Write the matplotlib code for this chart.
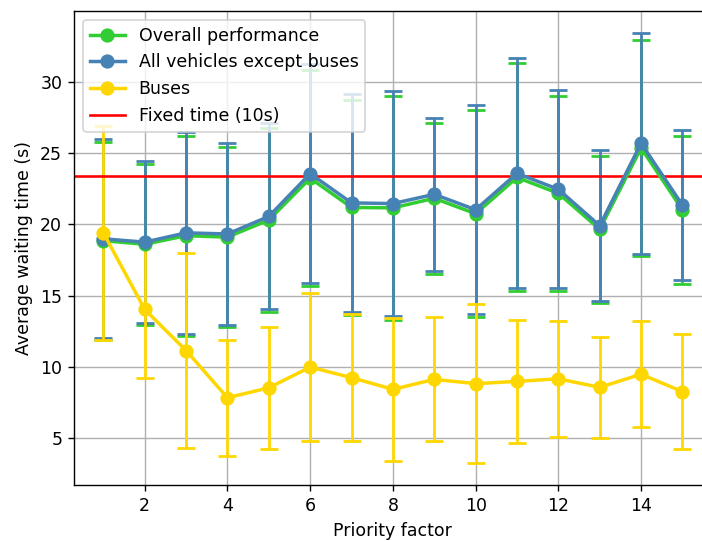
import matplotlib
matplotlib.use("Agg")
import matplotlib.pyplot as plt
from matplotlib.lines import Line2D

# Priority factor values on the x axis
priority = [1, 2, 3, 4, 5, 6, 7, 8, 9, 10, 11, 12, 13, 14, 15]

# Overall performance: mean waiting time and standard deviation (s)
overall_mean = [18.85, 18.60, 19.20, 19.10, 20.30, 23.23, 21.18, 21.15, 21.82, 20.74, 23.28, 22.17, 19.65, 25.35, 21.01]
overall_std = [6.95, 5.65, 7.00, 6.33, 6.47, 7.59, 7.56, 7.84, 5.30, 7.24, 7.99, 6.83, 5.16, 7.60, 5.20]

# All vehicles except buses
cars_mean = [18.98, 18.75, 19.40, 19.32, 20.55, 23.55, 21.50, 21.45, 22.10, 21.02, 23.57, 22.45, 19.90, 25.68, 21.34]
cars_std = [6.98, 5.69, 7.09, 6.39, 6.52, 7.67, 7.64, 7.90, 5.38, 7.33, 8.07, 6.94, 5.29, 7.76, 5.28]

# Buses
bus_mean = [19.40, 14.03, 11.15, 7.84, 8.54, 9.99, 9.25, 8.43, 9.13, 8.83, 8.99, 9.17, 8.57, 9.49, 8.27]
bus_std = [7.50, 4.80, 6.82, 4.05, 4.29, 5.21, 4.46, 4.99, 4.34, 5.56, 4.32, 4.06, 3.55, 3.73, 4.03]

# Fixed-time controller reference
fixed_time = 23.4

W, H, DPI = 702, 541, 125
fig = plt.figure(figsize=(W / DPI, H / DPI), dpi=DPI)
ax = fig.add_axes([74.4 / W, 1 - 484.5 / H, 637 / W, 473.5 / H])

ax.grid(True, color="#b0b0b0", linewidth=0.8)
ax.set_axisbelow(True)

LW, ELW, MS = 2.0, 1.6, 7.2
series = [
    (overall_mean, overall_std, "limegreen", "Overall performance"),
    (cars_mean, cars_std, "steelblue", "All vehicles except buses"),
    (bus_mean, bus_std, "gold", "Buses"),
]
handles = []
for mean, std, color, label in series:
    ax.errorbar(priority, mean, yerr=std, color=color, marker="o",
                markersize=MS, linewidth=LW, elinewidth=ELW, capthick=ELW,
                capsize=5)
    handles.append(Line2D([], [], color=color, marker="o", markersize=MS,
                          linewidth=LW, label=label))

ax.axhline(fixed_time, color="red", linewidth=1.5)
handles.append(Line2D([], [], color="red", linewidth=1.5, label="Fixed time (10s)"))

ax.set_xticks([2, 4, 6, 8, 10, 12, 14])
ax.set_yticks([5, 10, 15, 20, 25, 30])
ax.set_xlabel("Priority factor")
ax.set_ylabel("Average waiting time (s)")

ax.legend(handles=handles, loc="upper left", framealpha=0.8)

fig.savefig("out.png", dpi=DPI)
